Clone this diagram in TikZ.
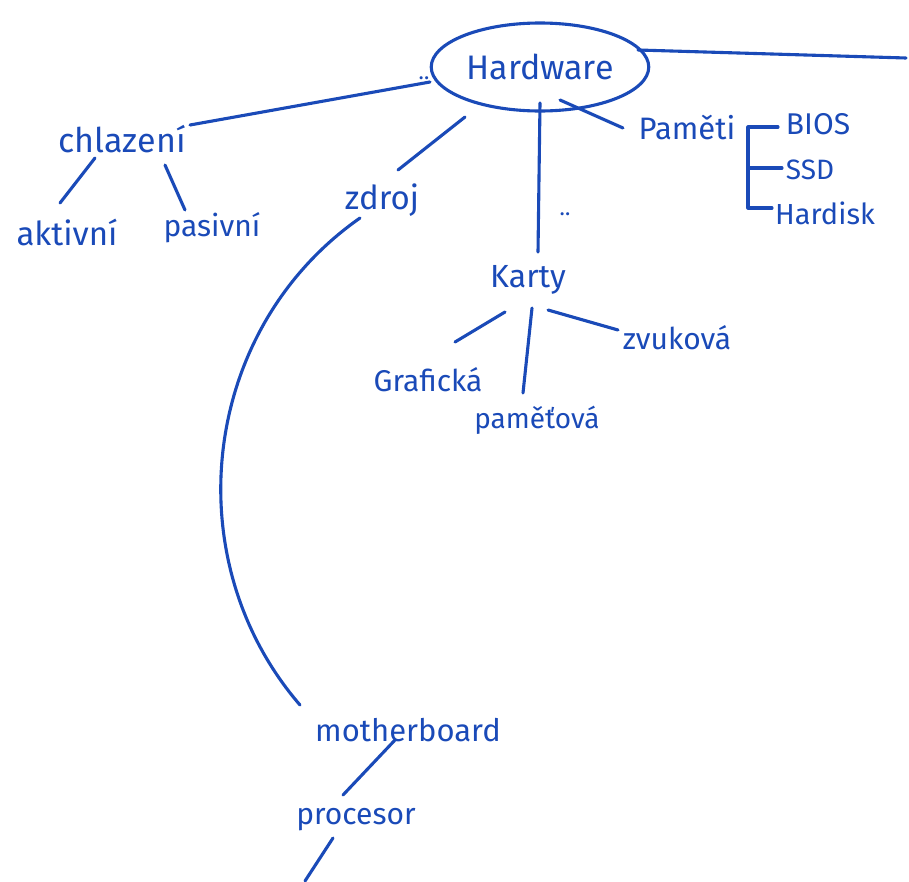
\documentclass[tikz,border=0pt]{standalone}
\usepackage{fontspec}
\setmainfont{Fira Sans}
\usetikzlibrary{shapes.geometric,calc}
\definecolor{ink}{RGB}{26,74,184}
\tikzset{
  txt/.style={text=ink,inner sep=0pt,anchor=center,font=\fontsize{#1}{#1}\selectfont},
  link/.style={draw=ink,line width=3.1pt,line cap=round,line join=round},
}
\begin{document}
\begin{tikzpicture}[x=1pt,y=-1pt]
\useasboundingbox (0,0) rectangle (909,881);
\fill[white] (0,0) rectangle (909,881);

% central topic
\node[ellipse,draw=ink,line width=3.1pt,minimum width=194pt,minimum height=88pt,
      text=ink,font=\fontsize{34}{34}\selectfont] (hw) at (540,67) {Hardware};

% branches
\node[txt=34] (chl)  at (122,139) {chlazení};
\node[txt=33] (akt)  at (67,232)  {aktivní};
\node[txt=30] (pas)  at (212,228) {pasivní};
\node[txt=33] (zdr)  at (382,200) {zdroj};
\node[txt=31] (pam)  at (687,128) {Paměti};
\node[txt=30] (bios) at (818,124) {BIOS};
\node[txt=28] (ssd)  at (810,170) {SSD};
\node[txt=29] (hdd)  at (825,213) {Hardisk};
\node[txt=32] (kar)  at (528,280) {Karty};
\node[txt=30] (graf) at (428,380) {Grafická};
\node[txt=28] (pamv) at (537,420) {paměťová};
\node[txt=30] (zvuk) at (677,338) {zvuková};
\node[txt=31] (mb)   at (408,730) {motherboard};
\node[txt=30] (proc) at (356,820) {procesor};
\node[txt=22] (d1)   at (424,78)  {..};
\node[txt=22] (d2)   at (565,214) {..};

\coordinate (ro) at (906,58);
\coordinate (pd) at (305,881);

% connectors
\draw[link] ($(chl)+(68,-14)$) -- ($(hw)+(-110,15)$);
\draw[link] ($(chl)+(-27,19)$) -- ($(akt)+(-7,-29)$);
\draw[link] ($(chl)+(43,26)$) -- ($(pas)+(-27,-18)$);
\draw[link] ($(hw)+(98,-17)$) -- (ro);
\draw[link] ($(hw)+(-75,50)$) -- ($(zdr)+(16,-30)$);
\draw[link] ($(hw)+(20,33)$) -- ($(pam)+(-64,0)$);
\draw[link] ($(hw)+(0,36)$) -- ($(kar)+(10,-28)$);
\draw[link] ($(zdr)+(-22,18)$) .. controls (200,330) and (175,560) .. ($(mb)+(-108,-25)$);
\draw[link] ($(kar)+(-23,32)$) -- ($(graf)+(27,-38)$);
\draw[link] ($(kar)+(4,28)$) -- ($(pamv)+(-14,-27)$);
\draw[link] ($(kar)+(20,30)$) -- ($(zvuk)+(-59,-8)$);
\draw[link] ($(mb)+(-13,10)$) -- ($(proc)+(-13,-25)$);
\draw[link] ($(proc)+(-23,18)$) -- (pd);

% bracket grouping the memory types
\draw[link] ($(bios)+(-40,3)$) -- ++(-30,0) |- ($(hdd)+(-53,-5)$);
\draw[link] ($(ssd)+(-28,-2)$) -- ++(-34,0);
\end{tikzpicture}
\end{document}
